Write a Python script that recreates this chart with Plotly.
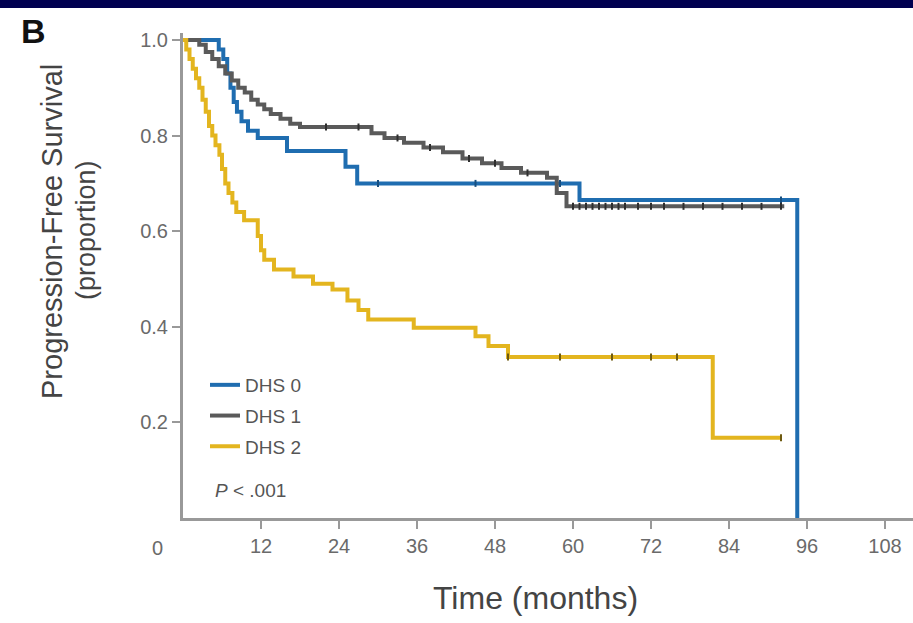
import plotly.graph_objects as go

# Kaplan-Meier step points (months, proportion progression-free)
dhs0_t = [0, 5.5, 6.2, 6.8, 7.3, 7.8, 8.3, 9.0, 10.0, 11.5, 16.0, 25.0, 26.8, 61.0, 94.5]
dhs0_s = [1.0, 0.98, 0.96, 0.93, 0.90, 0.87, 0.85, 0.83, 0.81, 0.795, 0.768, 0.735, 0.70, 0.665, 0.0]

dhs1_t = [0, 2.5, 3.5, 4.5, 5.5, 6.5, 7.5, 8.5, 9.5, 10.5, 11.5, 12.5, 13.5, 15.0, 16.5, 18.0,
          29.0, 31.0, 34.0, 37.0, 40.0, 43.0, 46.0, 49.0, 52.0, 56.0, 57.5, 59.0, 92.5]
dhs1_s = [1.0, 0.99, 0.975, 0.96, 0.945, 0.93, 0.915, 0.90, 0.89, 0.875, 0.865, 0.855, 0.845, 0.835, 0.825, 0.818,
          0.805, 0.795, 0.785, 0.775, 0.765, 0.752, 0.742, 0.732, 0.722, 0.712, 0.68, 0.652, 0.652]

dhs2_t = [0, 0.5, 1.0, 1.5, 2.0, 2.5, 3.0, 3.5, 4.0, 4.5, 5.0, 5.6, 6.0, 6.5, 7.0, 7.6, 8.2, 9.4,
          11.5, 12.0, 12.5, 14.0, 17.0, 20.0, 23.0, 25.3, 27.0, 28.5, 35.5, 45.0, 47.0, 50.0, 81.5, 92.0]
dhs2_s = [1.0, 0.98, 0.96, 0.94, 0.92, 0.90, 0.875, 0.85, 0.82, 0.80, 0.78, 0.76, 0.73, 0.70, 0.68, 0.66, 0.64, 0.623,
          0.59, 0.56, 0.54, 0.52, 0.505, 0.49, 0.478, 0.455, 0.435, 0.415, 0.398, 0.38, 0.36, 0.337, 0.168, 0.168]

# Censoring times
dhs0_cens = [30, 45, 58, 92]
dhs1_cens = [22, 27, 33, 38, 44, 48, 53, 60, 61, 62, 63, 64, 65, 66, 67, 68, 70, 72, 74, 77, 80, 83, 86, 89, 92]
dhs2_cens = [50, 58, 66, 72, 76, 92]

x_ticks = [12, 24, 36, 48, 60, 72, 84, 96, 108]
y_ticks = [0.2, 0.4, 0.6, 0.8, 1.0]
y_tick_text = ["0.2", "0.4", "0.6", "0.8", "1.0"]

series = [
    ("DHS 0", dhs0_t, dhs0_s, dhs0_cens, "#1f6db0", "#174f80"),
    ("DHS 1", dhs1_t, dhs1_s, dhs1_cens, "#5a5a5a", "#2e2e2e"),
    ("DHS 2", dhs2_t, dhs2_s, dhs2_cens, "#e3b51f", "#6e5a10"),
]

FONT = "Liberation Sans, Arial, sans-serif"


def surv_at(ts, ss, t):
    val = ss[0]
    for ti, si in zip(ts, ss):
        if ti <= t:
            val = si
    return val


fig = go.Figure()
for name, ts, ss, cens, col, dark in series:
    fig.add_trace(go.Scatter(
        x=ts, y=ss, mode="lines", name=name, line=dict(color=col, width=4, shape="hv"),
        legendgroup=name,
    ))
for name, ts, ss, cens, col, dark in series:
    fig.add_trace(go.Scatter(
        x=cens, y=[surv_at(ts, ss, c) for c in cens], mode="markers", showlegend=False,
        marker=dict(symbol="line-ns", size=5, line=dict(color=dark, width=2)),
        legendgroup=name, hoverinfo="skip",
    ))

W, H = 913, 623
L, R, T, B = 183, 0, 33, 105
pw, ph = W - L - R, H - T - B


def px_x(p):
    return (p - L) / pw


def px_y(p):
    return (H - B - p) / ph


fig.update_layout(
    width=W, height=H,
    margin=dict(l=L, r=R, t=T, b=B, pad=0),
    paper_bgcolor="white", plot_bgcolor="white",
    font=dict(family=FONT, color="#666666"),
    showlegend=True,
    legend=dict(
        x=px_x(205), y=px_y(366), xanchor="left", yanchor="top",
        font=dict(size=19, color="#555555", family=FONT),
        bgcolor="rgba(0,0,0,0)", itemwidth=30, tracegroupgap=3,
        traceorder="grouped",
    ),
    xaxis=dict(
        range=[0, pw / 6.5], tickvals=x_ticks, ticks="outside", ticklen=8, tickwidth=2,
        tickcolor="#999999", showline=True, linecolor="#999999", linewidth=3,
        showgrid=False, zeroline=False,
        tickfont=dict(size=20, color="#6a6a6a", family=FONT),
    ),
    yaxis=dict(
        range=[0, 1.0146], tickvals=y_ticks, ticktext=y_tick_text, ticks="outside", ticklen=8,
        tickwidth=2, tickcolor="#999999", showline=True, linecolor="#999999", linewidth=3,
        showgrid=False, zeroline=False,
        tickfont=dict(size=20, color="#6a6a6a", family=FONT),
    ),
    shapes=[
        dict(type="rect", xref="paper", yref="paper", x0=px_x(0), x1=px_x(W), y0=px_y(8), y1=px_y(0),
             fillcolor="#000050", line=dict(width=0), layer="above"),
    ],
    annotations=[
        dict(text="<b>B</b>", x=px_x(33), y=px_y(31), xref="paper", yref="paper", showarrow=False,
             font=dict(size=34, color="#111111", family=FONT),
             xanchor="center", yanchor="middle"),
        dict(text="Progression-Free Survival", x=px_x(52), y=px_y(232), xref="paper", yref="paper",
             showarrow=False, textangle=-90, font=dict(size=29, color="#444444", family=FONT),
             xanchor="center", yanchor="middle"),
        dict(text="(proportion)", x=px_x(86), y=px_y(230), xref="paper", yref="paper",
             showarrow=False, textangle=-90, font=dict(size=27, color="#444444", family=FONT),
             xanchor="center", yanchor="middle"),
        dict(text="Time (months)", x=px_x(535), y=px_y(598), xref="paper", yref="paper",
             showarrow=False, font=dict(size=32, color="#444444", family=FONT),
             xanchor="center", yanchor="middle"),
        dict(text="0", x=px_x(157), y=px_y(548), xref="paper", yref="paper",
             showarrow=False, font=dict(size=20, color="#6a6a6a", family=FONT),
             xanchor="center", yanchor="middle"),
        dict(text="<i>P</i> < .001", x=px_x(213), y=px_y(490), xref="paper", yref="paper",
             showarrow=False, font=dict(size=19, color="#555555", family=FONT),
             xanchor="left", yanchor="middle"),
    ],
)

fig.write_html("out.html")
